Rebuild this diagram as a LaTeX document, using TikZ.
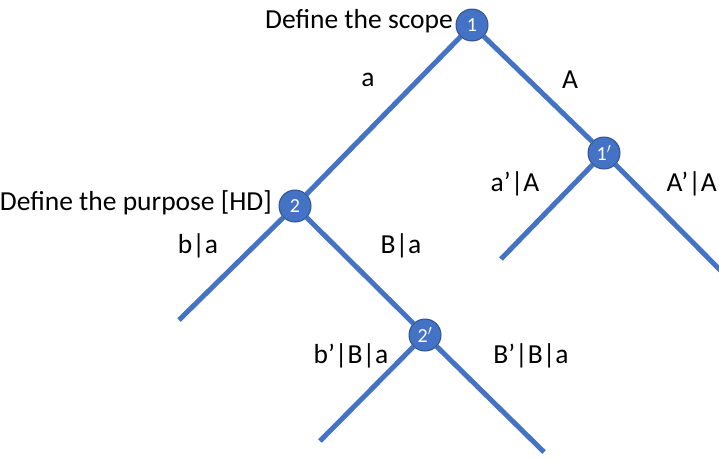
\documentclass[tikz,border=0pt]{standalone}
\usepackage{fontspec}
\setmainfont{Carlito}
\definecolor{obl}{HTML}{4472C4}
\definecolor{obd}{HTML}{2F528F}
\begin{document}
\begin{tikzpicture}[x=1pt,y=-1pt,
  dot/.style={circle,fill=obl,draw=obd,line width=1pt,minimum size=32pt,inner sep=0pt,text=white,font=\fontsize{20}{20}\selectfont},
  br/.style={draw=obl,line width=5pt,line cap=butt},
  lbl/.style={font=\fontsize{27.5}{30}\selectfont,text=black,inner sep=0pt}]
\useasboundingbox (0,0) rectangle (719,459);
\node[dot] (n1) at (472,25) {1};
\node[dot] (n2) at (295,206) {2};
\node[dot] (n1p) at (604,153) {1$'$};
\node[dot] (n2p) at (425,335) {2$'$};
\coordinate (e1) at (179,320);
\coordinate (e2) at (501,259);
\coordinate (e3) at (735,285);
\coordinate (e4) at (320,441);
\coordinate (e5) at (544,452);
\draw[br] (n1) -- (n2);
\draw[br] (n1) -- (n1p);
\draw[br] (n1p) -- (e2);
\draw[br] (n1p) -- (e3);
\draw[br] (n2) -- (e1);
\draw[br] (n2) -- (n2p);
\draw[br] (n2p) -- (e4);
\draw[br] (n2p) -- (e5);
\node[lbl,anchor=east] (t1) at (453,21) {Define the scope};
\node[lbl,anchor=east] (t2) at (272,203) {Define the purpose [HD]};
\node[lbl] (la) at (368,80) {a};
\node[lbl] (lA) at (570,80) {A};
\node[lbl] (lap) at (515,184) {a’|A};
\node[lbl,anchor=east] (lAp) at (717,184) {A’|A};
\node[lbl] (lb) at (198,246) {b|a};
\node[lbl] (lB) at (401,246) {B|a};
\node[lbl] (lbp) at (351,356) {b’|B|a};
\node[lbl] (lBp) at (531,356) {B’|B|a};
\end{tikzpicture}
\end{document}
